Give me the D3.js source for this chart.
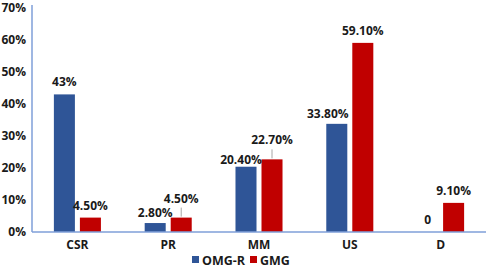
<!DOCTYPE html>
<html><head><meta charset="utf-8">
<script src="https://cdn.jsdelivr.net/npm/d3@7"></script>
<style>body{margin:0;background:#fff}svg{display:block}text{font-family:"Open Sans",sans-serif;font-weight:700;fill:#1a1a1a}</style>
</head><body><svg id="c" width="489" height="268"></svg>
<script>
const categories = ["CSR","PR","MM","US","D"];
const seriesNames = ["OMG-R","GMG"];
const omgR = [43, 2.8, 20.4, 33.8, 0];
const gmg = [4.5, 4.5, 22.7, 59.1, 9.1];
const omgRLabels = ["43%","2.80%","20.40%","33.80%","0"];
const gmgLabels = ["4.50%","4.50%","22.70%","59.10%","9.10%"];
const yTicks = [0,10,20,30,40,50,60,70];
const colors = ["#2F5597","#C00000"];

// label nudges (style only)
const nudge = {"OMG-R":{PR:[0,2],MM:[-5,5],US:[-9,2]},"GMG":{PR:[0,-7,true],MM:[0,-7,true]}};

const svg = d3.select("#c");
const m = {l:32, r:3};
const W = 489;
const x0 = d3.scaleBand().domain(categories).range([m.l, W-m.r]).paddingInner(0.482).paddingOuter(0.241);
const x1 = d3.scaleBand().domain(seriesNames).range([0, x0.bandwidth()]).paddingInner(0.192);
const y = d3.scaleLinear().domain([0,70]).range([232, 8]);

// y axis
const ya = svg.append("g").attr("transform",`translate(${m.l},0)`)
  .call(d3.axisLeft(y).tickValues(yTicks).tickFormat(d=>d+"%").tickSize(0).tickPadding(6));
ya.select(".domain").attr("stroke","#7F9FD8").attr("stroke-width",1.5).attr("d",`M0,5V${y(0)}`);
ya.selectAll("text").style("font-size","12px").style("font-family","'Open Sans',sans-serif").style("font-weight","700").attr("fill","#1a1a1a");

// bars
const data = [omgR, gmg];
const labels = [omgRLabels, gmgLabels];
seriesNames.forEach((s,si)=>{
  const g = svg.append("g");
  g.selectAll("rect").data(categories).join("rect")
    .attr("x",c=>x0(c)+x1(s)).attr("width",x1.bandwidth())
    .attr("y",(c,i)=>y(data[si][i])).attr("height",(c,i)=>y(0)-y(data[si][i]))
    .attr("fill",colors[si]);
});

// x axis
const xa = svg.append("g").attr("transform",`translate(0,${y(0)})`)
  .call(d3.axisBottom(x0).tickSize(0).tickPadding(8));
xa.select(".domain").attr("stroke","#7F9FD8").attr("stroke-width",1.5).attr("d",`M${m.l},0H${W-m.r}`);
xa.selectAll("text").style("font-size","12px").style("font-family","'Open Sans',sans-serif").style("font-weight","700").attr("fill","#1a1a1a");

// data labels
seriesNames.forEach((s,si)=>{
  categories.forEach((c,i)=>{
    const n = (nudge[s]||{})[c] || [0,0,false];
    const cx = x0(c)+x1(s)+x1.bandwidth()/2;
    const top = y(data[si][i]);
    if(n[2]){
      svg.append("line").attr("x1",cx).attr("x2",cx).attr("y1",top-1).attr("y2",top-10)
        .attr("stroke","#A6A6A6").attr("stroke-width",1);
    }
    svg.append("text").attr("x",cx+n[0]).attr("y",top-8+n[1]).attr("text-anchor","middle")
      .style("font-size","12px").text(labels[si][i]);
  });
});

// legend
const lg = svg.append("g").attr("transform","translate(192,260)");
const lx = [0, 58];
seriesNames.forEach((s,si)=>{
  lg.append("rect").attr("x",lx[si]).attr("y",-4).attr("width",7).attr("height",7).attr("fill",colors[si]);
  lg.append("text").attr("x",lx[si]+10).attr("y",4.5).style("font-size","12.5px").text(s);
});
</script></body></html>
